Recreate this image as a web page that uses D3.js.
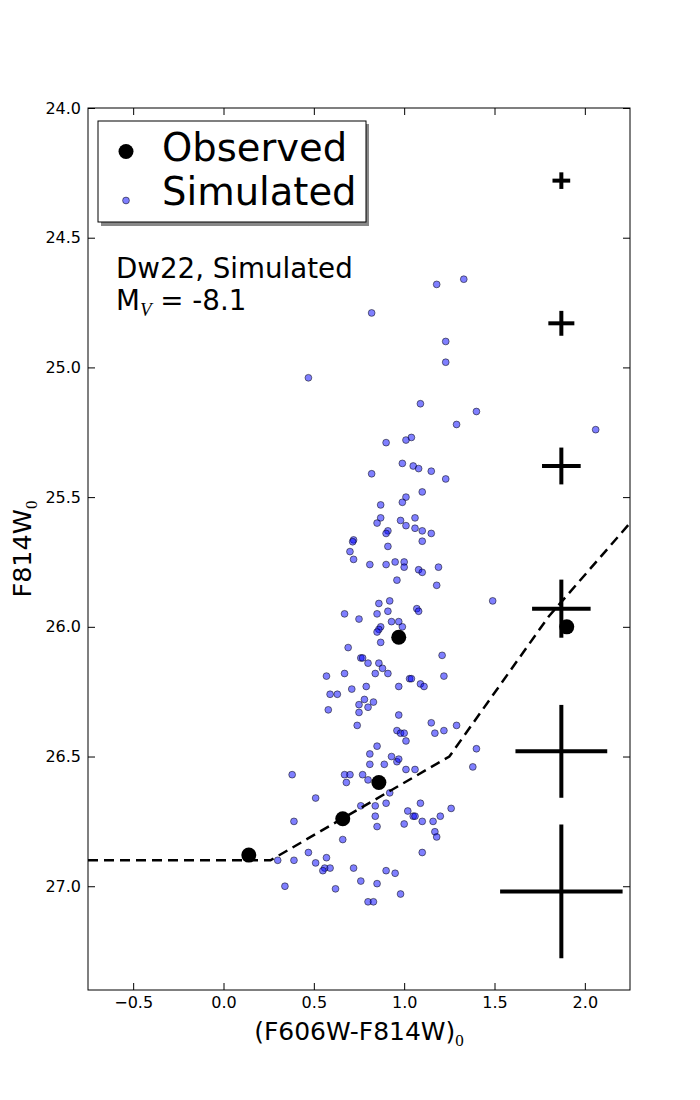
<!DOCTYPE html>
<html>
<head>
<meta charset="utf-8">
<script src="https://cdn.jsdelivr.net/npm/d3@7"></script>
<style>
  body { margin: 0; background: #fff; }
  svg { display: block; }
  text { font-family: "DejaVu Sans", sans-serif; }
</style>
</head>
<body>
<div id="chart"></div>
<script>
// ---- Data ----
const simColor = [0.47,1.33,1.18,0.82,1.23,1.23,0.47,1.09,1.40,1.29,1.04,1.01,0.90,0.99,1.05,1.08,1.15,0.82,1.23,1.10,
  1.01,0.99,0.87,0.87,0.85,0.98,1.06,1.01,1.06,1.10,1.15,0.91,0.90,1.10,0.72,0.715,0.91,0.70,0.72,0.81,
  0.90,0.95,1.00,1.00,1.08,1.10,1.19,0.96,1.18,1.49,0.92,0.86,1.07,1.08,0.67,0.85,0.91,0.75,0.93,0.97,
  0.87,0.86,0.85,0.99,0.87,0.69,1.21,0.76,0.77,0.80,0.86,0.88,0.91,0.84,0.67,0.57,1.22,1.03,1.04,1.09,
  1.11,0.79,0.97,0.71,0.59,0.63,0.78,0.83,0.75,0.80,0.58,0.75,0.97,0.74,1.15,1.29,1.17,1.22,0.96,0.98,
  1.00,1.01,0.85,0.81,0.93,0.96,0.97,0.89,0.81,1.01,1.06,1.40,1.38,0.38,0.67,0.70,0.77,0.68,0.80,0.92,
  0.51,0.76,0.84,0.90,1.09,1.02,1.26,1.20,1.05,1.06,0.84,0.39,0.85,1.00,1.10,1.16,1.17,1.18,0.66,1.10,
  0.47,0.30,0.39,0.51,0.57,0.56,0.55,0.59,0.72,0.90,0.95,0.76,0.85,0.34,0.62,0.98,0.80,0.83,2.06];
const simMag = [24.44,24.66,24.68,24.79,24.90,24.98,25.04,25.14,25.17,25.22,25.27,25.28,25.29,25.37,25.38,25.39,25.40,25.41,25.43,25.48,
  25.50,25.52,25.53,25.58,25.60,25.59,25.58,25.61,25.62,25.63,25.64,25.63,25.64,25.67,25.665,25.672,25.69,25.71,25.74,25.76,
  25.76,25.75,25.75,25.77,25.78,25.79,25.77,25.82,25.84,25.90,25.90,25.91,25.93,25.94,25.95,25.95,25.94,25.97,25.98,25.98,
  26.00,26.01,26.02,26.00,26.06,26.08,26.11,26.12,26.12,26.14,26.14,26.16,26.18,26.18,26.18,26.19,26.19,26.20,26.20,26.22,
  26.23,26.23,26.23,26.24,26.26,26.26,26.28,26.29,26.30,26.31,26.32,26.33,26.34,26.38,26.37,26.38,26.41,26.40,26.40,26.41,
  26.41,26.44,26.46,26.49,26.50,26.52,26.51,26.53,26.53,26.55,26.55,26.47,26.54,26.57,26.57,26.57,26.57,26.60,26.59,26.64,
  26.66,26.69,26.69,26.68,26.68,26.71,26.70,26.73,26.73,26.73,26.73,26.75,26.77,26.76,26.75,26.75,26.79,26.81,26.82,26.87,
  26.87,26.90,26.90,26.91,26.89,26.93,26.94,26.93,26.93,26.94,26.95,26.98,26.99,27.00,27.01,27.03,27.06,27.06,25.24];

const obsColor = [0.14, 0.66, 0.86, 0.97, 1.90];
const obsMag   = [26.88, 26.74, 26.60, 26.04, 26.00];

const limitColor = [-0.75, 0.26, 1.25, 1.80, 2.25];
const limitMag   = [26.90, 26.90, 26.50, 25.96, 25.60];

const errColor    = [1.87, 1.87, 1.87, 1.87, 1.87, 1.87];
const errMag      = [24.28, 24.83, 25.38, 25.93, 26.48, 27.02];
const errColHalf  = [0.049, 0.072, 0.107, 0.162, 0.254, 0.339];
const errMagHalf  = [0.032, 0.048, 0.071, 0.112, 0.179, 0.258];

const xTicks = [-0.5, 0.0, 0.5, 1.0, 1.5, 2.0];
const yTicks = [24.0, 24.5, 25.0, 25.5, 26.0, 26.5, 27.0];
const legendLabels = ["Observed", "Simulated"];

// ---- Layout ----
const W = 700, H = 1100;
const pL = 88, pR = 630, pT = 108, pB = 990;

const svg = d3.select("#chart").append("svg").attr("width", W).attr("height", H);

const x = d3.scaleLinear().domain([-0.75, 2.25]).range([pL, pR]);
const y = d3.scaleLinear().domain([24.0, 27.4]).range([pT, pB]);

svg.append("defs").append("clipPath").attr("id", "plotclip")
  .append("rect").attr("x", pL).attr("y", pT).attr("width", pR - pL).attr("height", pB - pT);

const plot = svg.append("g").attr("clip-path", "url(#plotclip)");

// simulated points
plot.append("g").selectAll("circle").data(simColor.map((c, i) => [c, simMag[i]])).join("circle")
  .attr("cx", d => x(d[0])).attr("cy", d => y(d[1])).attr("r", 3.4)
  .attr("fill", "#0000ff").attr("fill-opacity", 0.5)
  .attr("stroke", "#000").attr("stroke-opacity", 0.5).attr("stroke-width", 1);

// dashed limit line
const line = d3.line().x(d => x(d[0])).y(d => y(d[1]));
plot.append("path").datum(limitColor.map((c, i) => [c, limitMag[i]]))
  .attr("d", line).attr("fill", "none").attr("stroke", "#000")
  .attr("stroke-width", 2.5).attr("stroke-dasharray", "10,6");

// observed points
plot.append("g").selectAll("circle").data(obsColor.map((c, i) => [c, obsMag[i]])).join("circle")
  .attr("cx", d => x(d[0])).attr("cy", d => y(d[1])).attr("r", 7.5).attr("fill", "#000");

// error bars
const eb = plot.append("g").attr("stroke", "#000").attr("stroke-width", 4);
errMag.forEach((m, i) => {
  eb.append("line").attr("x1", x(errColor[i] - errColHalf[i])).attr("x2", x(errColor[i] + errColHalf[i]))
    .attr("y1", y(m)).attr("y2", y(m));
  eb.append("line").attr("x1", x(errColor[i])).attr("x2", x(errColor[i]))
    .attr("y1", y(m - errMagHalf[i])).attr("y2", y(m + errMagHalf[i]));
});

// ---- Axes ----
const fmtX = v => (v < 0 ? "\u2212" : "") + Math.abs(v).toFixed(1);
const axB = svg.append("g").attr("transform", `translate(0,${pB})`)
  .call(d3.axisBottom(x).tickValues(xTicks).tickSize(-7).tickPadding(7).tickFormat(fmtX));
const axT = svg.append("g").attr("transform", `translate(0,${pT})`)
  .call(d3.axisTop(x).tickValues(xTicks).tickSize(-7).tickFormat(""));
const axL = svg.append("g").attr("transform", `translate(${pL},0)`)
  .call(d3.axisLeft(y).tickValues(yTicks).tickSize(-7).tickPadding(7).tickFormat(d3.format(".1f")));
const axR = svg.append("g").attr("transform", `translate(${pR},0)`)
  .call(d3.axisRight(y).tickValues(yTicks).tickSize(-7).tickFormat(""));
[axB, axT, axL, axR].forEach(a => {
  a.select(".domain").remove();
  a.selectAll("line").attr("stroke", "#000").attr("stroke-width", 1);
  a.selectAll("text").attr("font-family", "DejaVu Sans").attr("font-size", 16).attr("fill", "#000");
});

svg.append("rect").attr("x", pL).attr("y", pT).attr("width", pR - pL).attr("height", pB - pT)
  .attr("fill", "none").attr("stroke", "#000").attr("stroke-width", 1);

// axis labels
const xl = svg.append("text").attr("x", (pL + pR) / 2).attr("y", 1040)
  .attr("text-anchor", "middle").attr("font-size", 25).attr("fill", "#000");
xl.append("tspan").text("(F606W-F814W)");
xl.append("tspan").attr("font-family", "Liberation Serif, serif").attr("font-size", 17).attr("dy", 6).text("0");

const yl = svg.append("text").attr("transform", `translate(31,${(pT + pB) / 2}) rotate(-90)`)
  .attr("text-anchor", "middle").attr("font-size", 25.5).attr("fill", "#000");
yl.append("tspan").text("F814W");
yl.append("tspan").attr("font-family", "Liberation Serif, serif").attr("font-size", 17).attr("dy", 6).text("0");

// annotation
svg.append("text").attr("x", 116).attr("y", 278).attr("font-size", 27.7).attr("fill", "#000").text("Dw22, Simulated");
const mv = svg.append("text").attr("x", 116).attr("y", 310).attr("font-size", 27.7).attr("fill", "#000");
mv.append("tspan").text("M");
mv.append("tspan").attr("font-family", "Liberation Serif, serif").attr("font-style", "italic")
  .attr("font-size", 19).attr("dy", 6).text("V");
mv.append("tspan").attr("dy", -6).text(" = -8.1");

// ---- Legend ----
const lg = svg.append("g");
lg.append("rect").attr("x", 101).attr("y", 124).attr("width", 268).attr("height", 102).attr("fill", "#888");
lg.append("rect").attr("x", 98).attr("y", 121).attr("width", 268).attr("height", 101)
  .attr("fill", "#fff").attr("stroke", "#000").attr("stroke-width", 1);
lg.append("circle").attr("cx", 126).attr("cy", 151.5).attr("r", 7.5).attr("fill", "#000");
lg.append("circle").attr("cx", 126).attr("cy", 200.5).attr("r", 3.4)
  .attr("fill", "#0000ff").attr("fill-opacity", 0.5).attr("stroke", "#000").attr("stroke-opacity", 0.5);
lg.selectAll("text.lab").data(legendLabels).join("text").attr("class", "lab")
  .attr("x", 162).attr("y", (d, i) => 160.5 + i * 44.5)
  .attr("font-size", 38.5).attr("fill", "#000").text(d => d);
</script>
</body>
</html>
